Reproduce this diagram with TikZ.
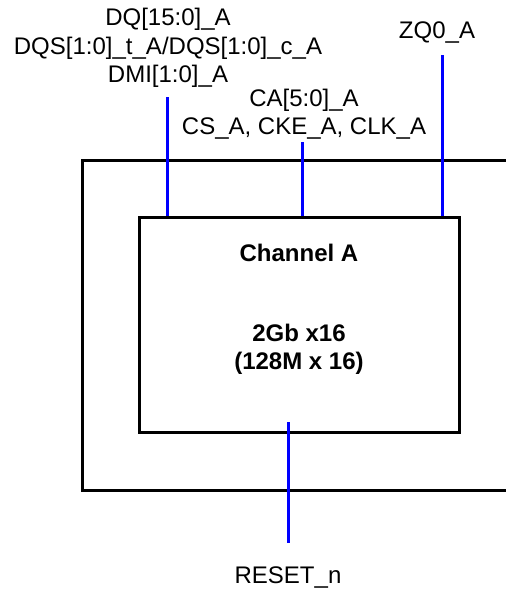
\documentclass[tikz,border=0pt]{standalone}
\usepackage{fontspec}
\setmainfont{Liberation Sans}
\usetikzlibrary{positioning}

\tikzset{
  pinlabel/.style={font=\fontsize{24}{28.5}\selectfont, align=center, inner sep=0pt},
  chiplabel/.style={font=\fontsize{24}{28.5}\selectfont\bfseries, align=center, inner sep=0pt},
  wire/.style={draw=blue, line width=3pt},
  frame/.style={draw=black, line width=3pt}
}

\begin{document}
\begin{tikzpicture}[x=1pt, y=-1pt]
\useasboundingbox (0,0) rectangle (506,595);
% package outline (right side runs off the picture)
\draw [frame] (506,160) -- (82,160) -- (82,490) -- (506,490);
% die
\node (chip) at (299,324.5) [frame, minimum width=320pt, minimum height=215pt] {};
\node (chan) at (299,253) [chiplabel] {Channel A};
\node (dens) at (299,349.5) [chiplabel] {2Gb x16\\(128M x 16)};
% pin labels
\node (dqlbl) at (168,48) [pinlabel] {DQ[15:0]\_A\\DQS[1:0]\_t\_A/DQS[1:0]\_c\_A\\DMI[1:0]\_A};
\node (calbl) at (304,114) [pinlabel] {CA[5:0]\_A\\CS\_A, CKE\_A, CLK\_A};
\node (zqlbl) at (437,33) [pinlabel] {ZQ0\_A};
\node (rstlbl) at (288,577) [pinlabel] {RESET\_n};
% wire ends
\coordinate (dqtop) at (167,97);
\coordinate (catop) at (302,142);
\coordinate (zqtop) at (442,55);
\coordinate (rstin) at (288,422);
\coordinate (rstbot) at (288,543);
% wires
\draw [wire] (dqtop) -- (dqtop |- chip.north);
\draw [wire] (catop) -- (catop |- chip.north);
\draw [wire] (zqtop) -- (zqtop |- chip.north);
\draw [wire] (rstin) -- (rstbot);
\end{tikzpicture}
\end{document}
